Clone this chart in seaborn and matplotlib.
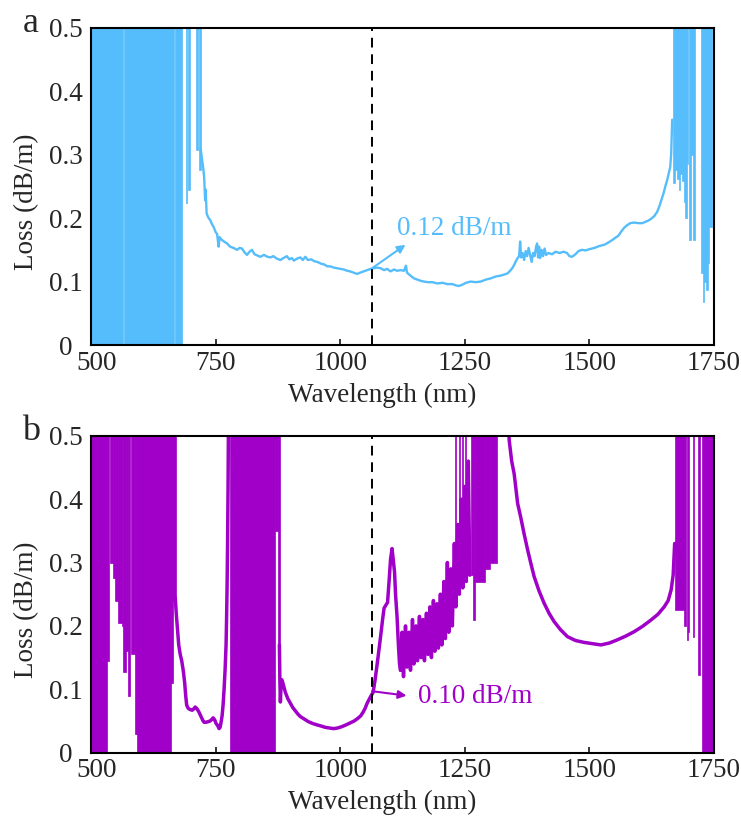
import numpy as np
import pandas as pd
import matplotlib
matplotlib.use("Agg")
import matplotlib.pyplot as plt
import matplotlib.transforms as mtransforms
import seaborn as sns

# ---- panel a : measured loss trace (nm, dB/m) ----
a_wl = [720, 722, 725, 727, 729, 730, 732, 736, 739, 743, 746, 750, 753, 756, 758, 762, 767, 773, 779, 786,
        793, 798, 803, 808, 813, 818, 823, 828, 834, 840, 847, 854, 860, 866, 873, 880, 886, 893, 898, 903,
        907, 913, 920, 925, 930, 935, 942, 948, 954, 962, 968, 974, 980, 987, 994, 1000, 1007, 1014, 1020, 1027,
        1034, 1040, 1047, 1054, 1061, 1067, 1074, 1081, 1088, 1094, 1101, 1108, 1114, 1121, 1128, 1132, 1134, 1140, 1148, 1155,
        1162, 1168, 1176, 1185, 1195, 1205, 1215, 1225, 1232, 1238, 1245, 1252, 1262, 1272, 1282, 1292, 1302, 1312, 1320, 1329,
        1336, 1342, 1346, 1350, 1353, 1356, 1359, 1361, 1363, 1366, 1369, 1372, 1375, 1378, 1381, 1384, 1387, 1390, 1393, 1395,
        1397, 1399, 1401, 1404, 1407, 1410, 1413, 1418, 1425, 1432, 1440, 1448, 1455, 1460, 1465, 1472, 1478, 1485, 1492, 1500,
        1510, 1520, 1530, 1537, 1545, 1552, 1558, 1564, 1570, 1576, 1582, 1590, 1598, 1606, 1612, 1618, 1624, 1630, 1636, 1641,
        1645, 1649, 1653, 1656, 1659, 1662, 1664, 1666]
a_loss = [0.31, 0.297, 0.28, 0.265, 0.228, 0.245, 0.207, 0.2, 0.197, 0.19, 0.186, 0.178, 0.175, 0.155, 0.17, 0.166, 0.163, 0.16, 0.155, 0.153,
          0.15, 0.153, 0.152, 0.146, 0.142, 0.147, 0.15, 0.143, 0.141, 0.139, 0.142, 0.139, 0.138, 0.14, 0.136, 0.134, 0.137, 0.14, 0.135, 0.137,
          0.133, 0.136, 0.138, 0.134, 0.139, 0.134, 0.135, 0.132, 0.131, 0.128, 0.127, 0.124, 0.124, 0.122, 0.121, 0.12, 0.119, 0.117, 0.116, 0.114,
          0.112, 0.114, 0.116, 0.118, 0.12, 0.121, 0.122, 0.121, 0.118, 0.12, 0.116, 0.119, 0.117, 0.118, 0.117, 0.125, 0.114, 0.11, 0.105, 0.103,
          0.101, 0.1, 0.099, 0.099, 0.097, 0.098, 0.096, 0.096, 0.094, 0.093, 0.095, 0.098, 0.1, 0.099, 0.1, 0.103, 0.105, 0.108, 0.109, 0.111,
          0.113, 0.118, 0.122, 0.128, 0.133, 0.137, 0.14, 0.163, 0.138, 0.145, 0.134, 0.148, 0.14, 0.153, 0.142, 0.131, 0.145, 0.14, 0.155, 0.16,
          0.138, 0.155, 0.137, 0.15, 0.14, 0.152, 0.142, 0.145, 0.143, 0.147, 0.145, 0.147, 0.145, 0.14, 0.139, 0.143, 0.148, 0.15, 0.149, 0.151,
          0.153, 0.156, 0.158, 0.161, 0.165, 0.169, 0.172, 0.179, 0.185, 0.189, 0.192, 0.193, 0.192, 0.192, 0.194, 0.196, 0.199, 0.203, 0.21, 0.22,
          0.23, 0.24, 0.252, 0.26, 0.27, 0.28, 0.3, 0.355]

# saturated (oscillating) regions of panel a: start, end, lower edge
a_band_start = [500, 565.5, 668.5, 690.5, 694.5, 711, 716.5, 1667, 1671, 1675, 1679, 1682, 1685, 1689, 1692, 1695, 1699, 1704, 1708, 1724,
                1727, 1730, 1733, 1737, 1740]
a_band_end = [563.5, 666.5, 682, 693, 698, 714, 720, 1671, 1675, 1679, 1682, 1685, 1689, 1692, 1695, 1698, 1704, 1708, 1711, 1727,
              1730, 1733, 1737, 1740, 1745]
a_band_low = [0, 0, 0, 0.224, 0.245, 0.307, 0.276, 0.255, 0.275, 0.262, 0.245, 0.27, 0.258, 0.225, 0.2, 0.285, 0.165, 0.3, 0.165, 0.113,
              0.068, 0.1, 0.087, 0.13, 0.186]

# ---- panel b : measured loss trace, continuous parts ----
b1_wl = [669, 671, 673, 676, 679, 682, 685, 688, 690, 692, 695, 699, 703, 706, 709, 712, 716, 719, 722, 725,
         727, 731, 735, 739, 743, 745, 748, 751, 754, 757, 759, 761, 763, 765, 767, 769, 771, 772, 773, 774,
         775, 776]
b1_loss = [0.245, 0.22, 0.2, 0.17, 0.155, 0.145, 0.13, 0.11, 0.09, 0.075, 0.07, 0.068, 0.067, 0.069, 0.072, 0.07, 0.065, 0.06, 0.055, 0.05,
           0.048, 0.048, 0.049, 0.05, 0.053, 0.055, 0.052, 0.046, 0.043, 0.038, 0.04, 0.048, 0.058, 0.075, 0.1, 0.13, 0.17, 0.21, 0.26, 0.33,
           0.42, 0.55]
b2_wl = [878, 879, 880, 881, 883, 886, 890, 895, 900, 905, 910, 915, 920, 928, 936, 945, 953, 962, 970, 978,
         987, 995, 1003, 1012, 1020, 1028, 1035, 1041, 1046, 1050, 1054, 1058, 1062, 1066, 1070, 1075, 1081, 1085, 1088, 1091,
         1095, 1098, 1101, 1104, 1107, 1109, 1111, 1114, 1117, 1119, 1121]
b2_loss = [0.17, 0.11, 0.08, 0.1, 0.115, 0.107, 0.095, 0.085, 0.078, 0.071, 0.066, 0.061, 0.057, 0.053, 0.049, 0.046, 0.044, 0.042, 0.04, 0.039,
           0.038, 0.039, 0.041, 0.044, 0.047, 0.05, 0.054, 0.058, 0.064, 0.07, 0.078, 0.084, 0.09, 0.095, 0.115, 0.145, 0.183, 0.21, 0.228, 0.232,
           0.237, 0.27, 0.305, 0.322, 0.3, 0.285, 0.25, 0.215, 0.167, 0.14, 0.13]
# noisy stretch 1121-1260 nm
b4_wl = [1121, 1124, 1127, 1131, 1134, 1138, 1141, 1145, 1148, 1152, 1155, 1159, 1162, 1166, 1169, 1173, 1176, 1180, 1183, 1187,
         1190, 1194, 1197, 1201, 1204, 1208, 1211, 1215, 1218, 1222, 1225, 1229, 1232, 1236, 1239, 1243, 1246, 1250, 1253, 1257,
         1260]
b4_loss = [0.13, 0.19, 0.12, 0.2, 0.135, 0.19, 0.13, 0.21, 0.14, 0.2, 0.145, 0.215, 0.15, 0.21, 0.145, 0.22, 0.155, 0.23, 0.15, 0.24,
           0.16, 0.235, 0.165, 0.25, 0.17, 0.27, 0.18, 0.3, 0.19, 0.29, 0.2, 0.33, 0.23, 0.36, 0.25, 0.4, 0.26, 0.42, 0.27, 0.46,
           0.28]
b3_wl = [1336, 1339, 1344, 1349, 1356, 1362, 1369, 1376, 1383, 1389, 1399, 1409, 1419, 1429, 1442, 1456, 1472, 1489, 1506, 1523,
         1540, 1556, 1573, 1590, 1606, 1623, 1637, 1650, 1658, 1664, 1668, 1671]
b3_loss = [0.55, 0.493, 0.46, 0.44, 0.393, 0.372, 0.345, 0.32, 0.297, 0.278, 0.255, 0.236, 0.22, 0.207, 0.194, 0.183, 0.177, 0.174, 0.172, 0.17,
           0.173, 0.178, 0.184, 0.191, 0.199, 0.209, 0.218, 0.23, 0.24, 0.257, 0.28, 0.33]

b_band_start = [500, 533, 539, 544, 548, 555, 561.5, 565, 570, 575, 579.5, 588, 592, 661, 665, 779, 870, 876, 1231, 1239,
                1245, 1251, 1262, 1266, 1270, 1290, 1300, 1672, 1690, 1695, 1698, 1707, 1717, 1726]
b_band_end = [533, 536, 544, 548, 555, 561.5, 565, 570, 575, 578, 588, 592, 661, 665, 670, 870, 876, 879, 1233, 1241,
              1247, 1253, 1266, 1270, 1290, 1300, 1315, 1690, 1694, 1697, 1699.5, 1710, 1721, 1751]
b_band_low = [0, 0.145, 0.3, 0.275, 0.24, 0.205, 0.2, 0.128, 0.16, 0.09, 0.155, 0.03, 0, 0.11, 0.24, 0, 0.35, 0.15, 0.33, 0.35,
              0.33, 0.3, 0.28, 0.21, 0.27, 0.29, 0.3, 0.225, 0.2, 0.178, 0.19, 0.183, 0.123, 0]

pump_wl = 1064
x_ticks = [500, 750, 1000, 1250, 1500, 1750]
y_ticks = [0, 0.1, 0.2, 0.3, 0.4, 0.5]
y_ticklabels = ["0", "0.1", "0.2", "0.3", "0.4", "0.5"]

blue = "#55BDFB"
purple = "#A000C8"

sns.set_style("ticks")
plt.rcParams["font.family"] = ["Liberation Serif", "DejaVu Serif"]

fig = plt.figure(figsize=(7.41, 8.17), dpi=100)
ax_a = fig.add_axes([0.1228, 0.5777, 0.8408, 0.3884])
ax_b = fig.add_axes([0.1228, 0.0787, 0.8408, 0.3880])


def draw_bands(ax, starts, ends, lows, color):
    for s, e, lo in zip(starts, ends, lows):
        ax.fill_between([s, e], lo, 0.6, color=color, lw=0.5, edgecolor=color)


# panel a
draw_bands(ax_a, a_band_start, a_band_end, a_band_low, blue)
sns.lineplot(x=a_wl, y=a_loss, ax=ax_a, color=blue, lw=1.7, sort=False)

# panel b
draw_bands(ax_b, b_band_start, b_band_end, b_band_low, purple)
df_b = pd.DataFrame({
    "wl": b1_wl + b2_wl + b4_wl + b3_wl,
    "loss": b1_loss + b2_loss + b4_loss + b3_loss,
    "part": [1] * len(b1_wl) + [2] * len(b2_wl) + [4] * len(b4_wl) + [3] * len(b3_wl),
})
sns.lineplot(data=df_b, x="wl", y="loss", units="part", estimator=None, ax=ax_b,
             color=purple, lw=2.5, sort=False)

for ax in (ax_a, ax_b):
    ax.axvline(pump_wl, color="black", ls=(0, (5, 3.5)), lw=1.4)
    ax.set_xlim(500, 1750)
    ax.set_ylim(0, 0.5)
    ax.set_xticks(x_ticks)
    ax.set_yticks(y_ticks)
    ax.set_yticklabels(y_ticklabels)
    ax.tick_params(direction="in", length=4, width=1.3, labelsize=19.5, top=False, right=False)
    ax.tick_params(axis="x", pad=4)
    ax.tick_params(axis="y", pad=18)
    for lab in ax.get_yticklabels():
        lab.set_horizontalalignment("center")
    # first x label sits a little right of its tick, as in the original
    first = ax.get_xticklabels()[0]
    first.set_transform(first.get_transform() + mtransforms.ScaledTranslation(6 / 100, 0, fig.dpi_scale_trans))
    for sp in ax.spines.values():
        sp.set_visible(True)
        sp.set_linewidth(1.5)
        sp.set_color("black")
    ax.set_xlabel("Wavelength (nm)", fontsize=19.5)
    ax.set_ylabel("Loss (dB/m)", fontsize=19.5)
    ax.xaxis.set_label_coords(0.468, -0.118)
    ax.yaxis.set_label_coords(-0.083, 0.45)

# annotations
ax_a.annotate("", xy=(1131, 0.158), xytext=(1064, 0.121),
              arrowprops=dict(arrowstyle="-|>", color=blue, lw=1.5, mutation_scale=12, shrinkA=0, shrinkB=0))
ax_a.text(1114, 0.183, "0.12 dB/m", color=blue, fontsize=19.5, va="center", ha="left")

ax_b.annotate("", xy=(1133, 0.09), xytext=(1064, 0.097),
              arrowprops=dict(arrowstyle="-|>", color=purple, lw=1.5, mutation_scale=12, shrinkA=0, shrinkB=0))
ax_b.text(1156, 0.088, "0.10 dB/m", color=purple, fontsize=19.5, va="center", ha="left")

fig.text(31 / 741, 1 - 23 / 817, "a", fontsize=26, ha="center", va="center")
fig.text(31 / 741, 1 - 431 / 817, "b", fontsize=26, ha="center", va="center")

fig.savefig("out.png", dpi=100)
